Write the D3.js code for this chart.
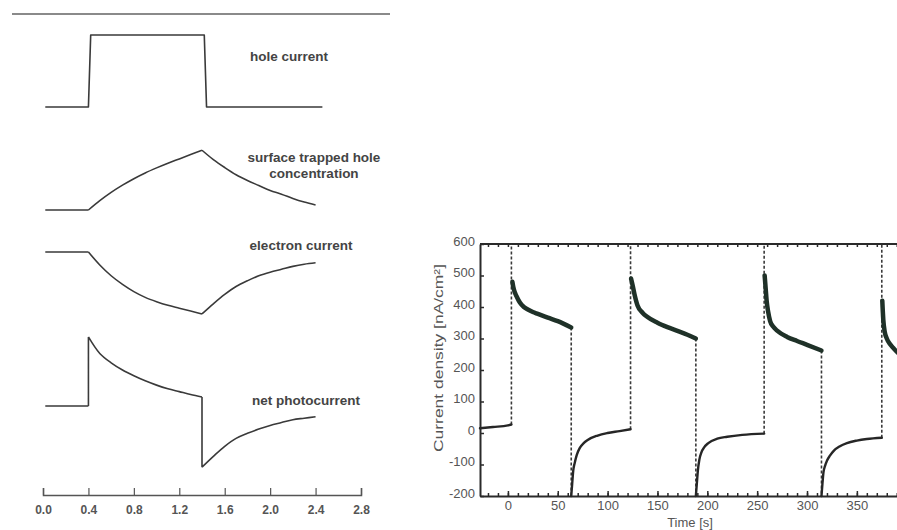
<!DOCTYPE html>
<html>
<head>
<meta charset="utf-8">
<script src="https://cdn.jsdelivr.net/npm/d3@7"></script>
<style>
  html, body { margin: 0; padding: 0; background: #fff; }
  svg { display: block; font-family: "Liberation Sans", Arial, sans-serif; }
</style>
</head>
<body>
<svg id="chart" width="897" height="530"></svg>
<script>
// ---------------- LEFT: schematic (time in arbitrary units) ----------------
const leftTicks = [0, 0.4, 0.8, 1.2, 1.6, 2.0, 2.4, 2.8];
const cornerTimes = [0.4, 1.4];

const holeT = [0.02, 0.4, 0.42, 1.42, 1.44, 2.46];
const holeV = [0, 0, 1, 1, 0, 0];

const trapT = [0.02, 0.4, 0.5, 0.6, 0.7, 0.8, 0.9, 1.0, 1.1, 1.2, 1.3, 1.4, 1.5, 1.6, 1.7, 1.8, 1.9, 2.0, 2.1, 2.2, 2.3, 2.4];
const trapV = [0, 0, 0.13, 0.245, 0.345, 0.435, 0.515, 0.585, 0.65, 0.71, 0.77, 0.83, 0.7, 0.59, 0.49, 0.41, 0.34, 0.27, 0.22, 0.16, 0.11, 0.07];

const elecT = [0.02, 0.4, 0.5, 0.6, 0.7, 0.8, 0.9, 1.0, 1.1, 1.2, 1.3, 1.4, 1.5, 1.6, 1.7, 1.8, 1.9, 2.0, 2.1, 2.2, 2.3, 2.4];
const elecV = [0, 0, -0.18, -0.33, -0.45, -0.55, -0.63, -0.69, -0.74, -0.78, -0.82, -0.86, -0.72, -0.59, -0.48, -0.4, -0.33, -0.28, -0.24, -0.2, -0.17, -0.15];

const netT = [0.02, 0.4, 0.4, 0.5, 0.6, 0.7, 0.8, 0.9, 1.0, 1.1, 1.2, 1.3, 1.4, 1.4, 1.5, 1.6, 1.7, 1.8, 1.9, 2.0, 2.1, 2.2, 2.3, 2.4];
const netV = [0, 0, 0.96, 0.73, 0.6, 0.5, 0.42, 0.35, 0.29, 0.24, 0.2, 0.16, 0.125, -0.85, -0.7, -0.56, -0.45, -0.38, -0.32, -0.27, -0.23, -0.19, -0.17, -0.15];

const panelNames = ["hole current", "surface trapped hole\nconcentration", "electron current", "net photocurrent"];

// ---------------- RIGHT: measured current density ----------------
const rightYTicks = [-200, -100, 0, 100, 200, 300, 400, 500, 600];
const rightXTicks = [0, 50, 100, 150, 200, 250, 300, 350];

const darkT = [-28, -15, 0, 3.5];
const darkV = [15, 19, 24, 27];

const on1T = [4.5, 5.5, 7, 9, 12, 16, 20, 25, 30, 40, 50, 63.5];
const on1V = [480, 462, 446, 432, 414, 400, 392, 384, 378, 366, 355, 335];
const off1T = [63.5, 64.5, 65.5, 67, 69, 72, 76, 80, 90, 100, 112, 123];
const off1V = [-200, -160, -120, -95, -70, -48, -32, -22, -8, 0, 6, 12];

const on2T = [123.5, 125, 127, 130, 135, 140, 150, 160, 170, 180, 188.5];
const on2V = [490, 470, 440, 405, 382, 368, 350, 336, 324, 312, 300];
const off2T = [188.5, 189.5, 190.5, 192, 194, 197, 201, 210, 220, 235, 257];
const off2V = [-200, -160, -120, -85, -62, -45, -32, -18, -12, -6, -2];

const on3T = [257.5, 258.5, 259.5, 261, 263, 266, 270, 280, 290, 300, 314.5];
const on3V = [500, 460, 420, 385, 355, 338, 325, 305, 292, 280, 262];
const off3T = [314.5, 315.5, 316.5, 318, 320, 323, 327, 333, 340, 350, 360, 375];
const off3V = [-200, -160, -125, -105, -88, -72, -56, -42, -32, -24, -19, -15];

const on4T = [375.5, 376.5, 378, 380, 383, 387, 392, 400];
const on4V = [420, 360, 320, 300, 283, 268, 252, 235];

const switchT = [3.5, 63.5, 123, 188.5, 257, 314.5, 375];

// ---------------- drawing ----------------
const svg = d3.select("#chart");
const zip = (t, v) => t.map((d, i) => [d, v[i]]);

// split a series into smooth pieces at the corner times
function splitPieces(pts) {
  const pieces = [];
  let cur = [pts[0]];
  for (let i = 1; i < pts.length; i++) {
    cur.push(pts[i]);
    if (cornerTimes.includes(pts[i][0]) && i < pts.length - 1) {
      pieces.push(cur);
      cur = [pts[i]];
    }
  }
  if (cur.length > 1) pieces.push(cur);
  return pieces;
}

// LEFT chart
const xL = d3.scaleLinear().domain([0, 2.8]).range([43, 361]);
const yL = d3.scaleLinear().domain([0, 1]).range([0, -72]);
const panelBase = [107, 210, 252, 406];
const panelLabelY = [56, 157, 245, 400];
const panelLabelX = [289, 314, 301, 306];

svg.append("line").attr("x1", 12).attr("x2", 390).attr("y1", 14).attr("y2", 14)
  .attr("stroke", "#8a8a8a").attr("stroke-width", 2);

const leftSeries = [zip(holeT, holeV), zip(trapT, trapV), zip(elecT, elecV), zip(netT, netV)];
leftSeries.forEach((s, i) => {
  const g = svg.append("g").attr("transform", `translate(0,${panelBase[i]})`);
  const pieces = i === 0 ? [s] : splitPieces(s);
  const path = pieces.map(p => d3.line().x(d => xL(d[0])).y(d => yL(d[1]))
      .curve(i === 0 || p.length < 3 ? d3.curveLinear : d3.curveCatmullRom.alpha(0.5))(p)).join("");
  g.append("path").attr("d", path)
    .attr("fill", "none").attr("stroke", "#3a3a3a").attr("stroke-width", 1.6)
    .attr("stroke-linejoin", "round");
  const lines = panelNames[i].split("\n");
  const t = svg.append("text").attr("x", panelLabelX[i]).attr("y", panelLabelY[i])
    .attr("text-anchor", "middle").attr("font-size", 13.5).attr("font-weight", "bold")
    .attr("fill", "#444");
  lines.forEach((ln, k) => {
    t.append("tspan").attr("x", panelLabelX[i]).attr("dy", k === 0 ? "0.35em" : 16).text(ln);
  });
});

const axL = svg.append("g").attr("transform", "translate(0,495)")
  .call(d3.axisBottom(xL).tickValues(leftTicks).tickFormat(d3.format(".1f"))
    .tickSizeInner(-7).tickSizeOuter(-7).tickPadding(10));
axL.select(".domain").attr("stroke", "#555").attr("stroke-width", 1.5);
axL.selectAll(".tick line").attr("stroke", "#555").attr("stroke-width", 1.2);
axL.selectAll(".tick text").attr("font-size", 12).attr("font-weight", "bold").attr("fill", "#555");

// RIGHT chart
const xR = d3.scaleLinear().domain([-28, 400]).range([480, 480 + 428 * 0.997]);
const yR = d3.scaleLinear().domain([-200, 600]).range([496, 244]);
const minorX = d3.range(-20, 401, 10);

const gR = svg.append("g");
gR.append("line").attr("x1", xR(-28)).attr("x2", xR(400)).attr("y1", yR(600)).attr("y2", yR(600))
  .attr("stroke", "#2a2a2a").attr("stroke-width", 2);
const axB = gR.append("g").attr("transform", `translate(0,${yR(-200)})`)
  .call(d3.axisBottom(xR).tickValues(rightXTicks).tickFormat(d => String(d))
    .tickSizeInner(-5).tickSizeOuter(0).tickPadding(5));
axB.select(".domain").attr("stroke", "#2a2a2a").attr("stroke-width", 2);
axB.selectAll(".tick line").attr("stroke", "#2a2a2a").attr("stroke-width", 1.5);
axB.selectAll(".tick text").attr("font-size", 13).attr("fill", "#555");

const axBm = gR.append("g").attr("transform", `translate(0,${yR(-200)})`)
  .call(d3.axisBottom(xR).tickValues(minorX).tickFormat("").tickSizeInner(-3).tickSizeOuter(0));
axBm.select(".domain").remove();
axBm.selectAll(".tick line").attr("stroke", "#2a2a2a").attr("stroke-width", 1.5);

const axT = gR.append("g").attr("transform", `translate(0,${yR(600)})`)
  .call(d3.axisTop(xR).tickValues(minorX).tickFormat("").tickSizeInner(-3).tickSizeOuter(0));
axT.select(".domain").remove();
axT.selectAll(".tick line").attr("stroke", "#2a2a2a").attr("stroke-width", 1.5);

const axY = gR.append("g").attr("transform", `translate(${xR(-28)},0)`)
  .call(d3.axisLeft(yR).tickValues(rightYTicks).tickFormat(d => String(d))
    .tickSizeInner(-4).tickSizeOuter(0).tickPadding(5));
axY.select(".domain").attr("stroke", "#2a2a2a").attr("stroke-width", 2);
axY.selectAll(".tick line").attr("stroke", "#2a2a2a").attr("stroke-width", 1.5);
axY.selectAll(".tick text").attr("font-size", 13).attr("fill", "#555").attr("dy", "0.1em");

svg.append("text").attr("x", 690).attr("y", 527).attr("text-anchor", "middle")
  .attr("font-size", 13).attr("fill", "#555").text("Time [s]");
svg.append("text").attr("transform", "translate(443,358) rotate(-90)").attr("text-anchor", "middle")
  .attr("font-size", 13.5).attr("fill", "#555").attr("textLength", 188).attr("lengthAdjust", "spacingAndGlyphs")
  .text("Current density [nA/cm²]");

const segs = [[darkT, darkV], [on1T, on1V], [off1T, off1V], [on2T, on2V], [off2T, off2V], [on3T, on3V], [off3T, off3V], [on4T, on4V]];
switchT.forEach((t, i) => {
  const prev = segs[i][1];
  const from = prev[prev.length - 1];
  const goingUp = i % 2 === 0;
  const to = goingUp ? yR.domain()[1] : yR.domain()[0];
  gR.append("line").attr("x1", xR(t)).attr("x2", xR(t)).attr("y1", yR(from)).attr("y2", yR(to))
    .attr("stroke", "#3a3a3a").attr("stroke-width", 1.6).attr("stroke-dasharray", "3,2");
});

const lineR = d3.line().x(d => xR(d[0])).y(d => yR(d[1])).curve(d3.curveMonotoneX);
segs.forEach((s, i) => {
  const on = i % 2 === 1;
  gR.append("path").datum(zip(s[0], s[1])).attr("d", lineR)
    .attr("fill", "none").attr("stroke", on ? "#1f3128" : "#262626")
    .attr("stroke-width", on ? 4.5 : 2.4).attr("stroke-linecap", "round");
});
</script>
</body>
</html>
